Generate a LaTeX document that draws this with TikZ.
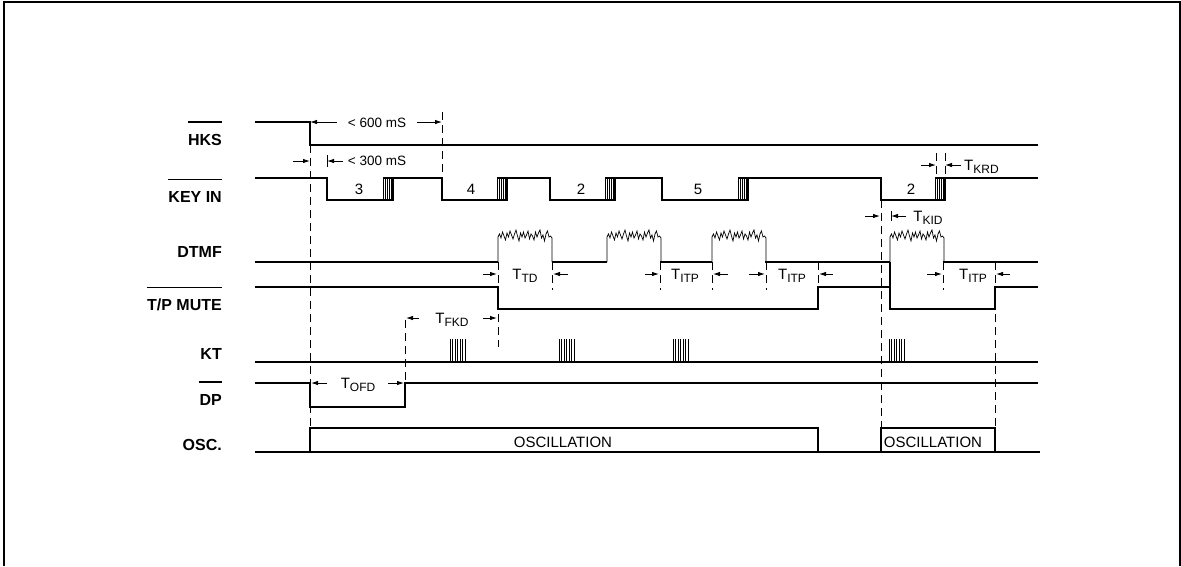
\documentclass[tikz,border=0pt]{standalone}
\usepackage{fontspec}
\setmainfont{Liberation Sans}
\usetikzlibrary{arrows.meta}
\newcommand{\Tsub}[1]{T\raisebox{-3pt}{\fontsize{12}{12}\selectfont #1}}

\begin{document}
\begin{tikzpicture}[x=1pt,y=-1pt,
        >={Latex[length=7pt,width=4.5pt]},
        sig/.style={line width=1.1pt},
        dsh/.style={line width=0.9pt,dash pattern=on 8pt off 5pt},
        dim/.style={line width=0.9pt,->},
        fine/.style={line width=0.7pt},
        lbl/.style={font=\bfseries\fontsize{16}{18}\selectfont,anchor=base east,inner sep=0pt},
        txt/.style={font=\fontsize{15}{17}\selectfont,anchor=base,inner sep=0pt}]
        \useasboundingbox (0,0) rectangle (1181,566);
        \draw[line width=2pt] (3.7,566) -- (3.7,1.7) -- (1179.7,1.7) -- (1179.7,566);

        %%%%%%%%%% Etichette %%%%%%%%%%
        \node[lbl] (hks)    at (222,145)   {HKS};
        \node[lbl] (keyin)  at (222,202.5) {KEY IN};
        \node[lbl] (dtmf)   at (222,257)   {DTMF};
        \node[lbl] (tpmute) at (222,310.5) {T/P MUTE};
        \node[lbl] (kt)     at (222,359)   {KT};
        \node[lbl] (dp)     at (222,405)   {DP};
        \node[lbl] (osc)    at (222,450)   {OSC.};
        \foreach \n in {hks,keyin,tpmute,dp}
            \draw[sig] ([yshift=23pt]\n.base west) -- ([yshift=23pt]\n.base east);

        %%%%%%%%%% Segnali %%%%%%%%%%
        % HKS
        \draw[sig] (255,122) -- (310,122) -- (310,145) -- (1038,145);
        % KEY IN
        \draw[sig] (255,178) -- (327,178) -- (327,200) -- (393,200) -- (393,178) -- (442,178) -- (442,200)
            -- (507,200) -- (507,178) -- (550,178) -- (550,200) -- (615,200) -- (615,178) -- (662,178)
            -- (662,200) -- (748,200) -- (748,178) -- (881,178) -- (881,200) -- (945,200) -- (945,178) -- (1038,178);
        \foreach \b in {383,497,605,738,935}{
            \draw[sig] (\b,178) -- (\b+10,178);
            \foreach \k in {0,2,...,8}
                \draw[fine] (\b+\k,178) -- (\b+\k,200);
        }
        \node[txt] (key1) at (359,194) {3};
        \node[txt] (key2) at (471,194) {4};
        \node[txt] (key3) at (581,194) {2};
        \node[txt] (key4) at (698,194) {5};
        \node[txt] (key5) at (911,194) {2};
        % DTMF
        \draw[sig] (255,262) -- (498,262) (552,262) -- (607,262) (660,262) -- (712,262)
            (765,262) -- (890,262) (943,262) -- (1038,262);
        \foreach \b in {498,607,712,890}
            \draw[fine] (\b,262) -- (\b,237)
                \foreach \y [count=\i from 0] in {237,234,238,232,236,240,233,237,231,235,239,234,230,236,241,
                    233,237,232,238,235,231,239,234,236,240,232,237,233,230,238,235,241,234,231,237,236,238}
                    { -- ({\b+1.5*\i},\y) }
                -- (\b+54,262);
        % T/P MUTE
        \draw[sig] (255,287) -- (498,287) -- (498,309) -- (818,309) -- (818,287) -- (890,287) -- (890,309)
            -- (995,309) -- (995,287) -- (1038,287);
        \draw[sig] (890,262) -- (890,287);
        % KT
        \draw[sig] (255,362) -- (1038,362);
        \foreach \b in {450,559,673,889}
            \foreach \k in {0,2.5,...,15}
                \draw[fine] (\b+\k,362) -- (\b+\k,339);
        % DP
        \draw[sig] (255,383) -- (310,383) -- (310,407) -- (405,407) -- (405,383) -- (1038,383);
        % OSC.
        \draw[sig] (255,452) -- (1040,452);
        \draw[sig] (310,452) -- (310,428) -- (818,428) -- (818,452);
        \draw[sig] (881,452) -- (881,428) -- (995,428) -- (995,452);
        \node[txt] (osc1) at (563,447) {OSCILLATION};
        \node[txt] (osc2) at (933,447) {OSCILLATION};

        %%%%%%%%%% Tempi %%%%%%%%%%
        \draw[dsh] (310,145) -- (310,428);
        \draw[dsh] (442,112) -- (442,178);
        \draw[dsh] (498,262) -- (498,347);
        \draw[dsh] (405,320) -- (405,383);
        \draw[dsh] (881,200) -- (881,428);
        \draw[dsh] (995,262) -- (995,428);
        \draw[dsh] (936,153) -- (936,178) (945,153) -- (945,178);
        \foreach \x in {552,660,712,766,818,943}
            \draw[dsh] (\x,262) -- (\x,290);

        \node[txt,font=\fontsize{13.5}{15}\selectfont] (t600) at (377,127) {< 600 mS};
        \draw[dim] (337,122) -- (310,122);
        \draw[dim] (417,122) -- (442,122);
        \node[txt,font=\fontsize{13.5}{15}\selectfont] (t300) at (377,165) {< 300 mS};
        \draw[dim] (343,161) -- (327,161);
        \draw[fine] (327,155) -- (327,167);
        \draw[dim] (293,161) -- (310,161);

        \node[txt,anchor=base west] (tkrd) at (964,170) {\Tsub{KRD}};
        \draw[dim] (921,165) -- (936,165);
        \draw[dim] (961,165) -- (945,165);
        \node[txt] (tkid) at (928,221) {\Tsub{KID}};
        \draw[dim] (865,216) -- (880,216);
        \draw[dim] (906,216) -- (891,216);
        \draw[fine] (891,211) -- (891,221);

        \node[txt] (ttd) at (525,279) {\Tsub{TD}};
        \draw[dim] (483,274) -- (497,274);
        \draw[dim] (568,274) -- (553,274);
        \node[txt] (titp1) at (685,279) {\Tsub{ITP}};
        \draw[dim] (645,274) -- (659,274);
        \draw[dim] (728,274) -- (713,274);
        \node[txt] (titp2) at (792,279) {\Tsub{ITP}};
        \draw[dim] (749,274) -- (765,274);
        \draw[dim] (833,274) -- (819,274);
        \node[txt] (titp3) at (973,279) {\Tsub{ITP}};
        \draw[dim] (927,274) -- (942,274);
        \draw[dim] (1010,274) -- (996,274);

        \node[txt] (tfkd) at (452,323) {\Tsub{FKD}};
        \draw[dim] (419,318) -- (406,318);
        \draw[dim] (483,318) -- (497,318);
        \node[txt] (tofd) at (358,388) {\Tsub{OFD}};
        \draw[dim] (327,383) -- (311,383);
        \draw[dim] (388,383) -- (404,383);
    \end{tikzpicture}
\end{document}
